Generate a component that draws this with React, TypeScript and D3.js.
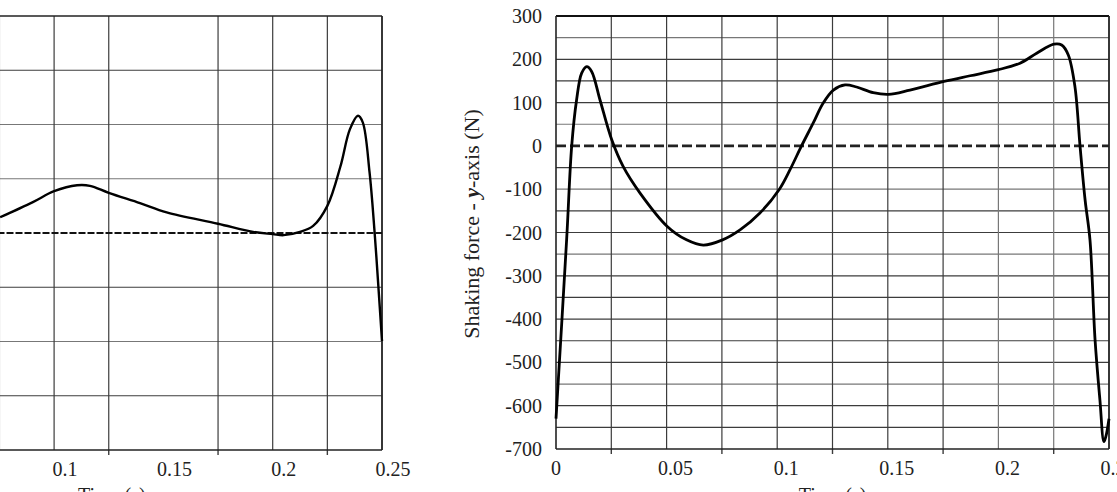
import React from "react";
import * as d3 from "d3";

// ---------- Data ----------
// Left panel (x-axis shaking force, partially visible), time in s, force in N
const leftTime = [0.0753, 0.0903, 0.1, 0.1105, 0.1164, 0.125, 0.1393, 0.1515, 0.175, 0.191, 0.2, 0.205, 0.2125, 0.2185, 0.225, 0.231, 0.2353, 0.239, 0.2412, 0.2443, 0.2466, 0.2482, 0.25];
const leftForce = [29, 57, 77, 88, 87, 74, 55, 38, 17, 2, -2, -4, 2, 13, 50, 123, 191, 216, 204, 112, 2, -90, -199];

// Right panel (y-axis shaking force)
const rightTime = [0, 0.0048, 0.0071, 0.0093, 0.0116, 0.0139, 0.0161, 0.0199, 0.0252, 0.0304, 0.038, 0.0503, 0.059, 0.0666, 0.0753, 0.0832, 0.0922, 0.101, 0.1058, 0.111, 0.1163, 0.1208, 0.1254, 0.1307, 0.1359, 0.1434, 0.1503, 0.16, 0.1754, 0.1872, 0.2, 0.2098, 0.2173, 0.2251, 0.2286, 0.2316, 0.2346, 0.2369, 0.2392, 0.2414, 0.2437, 0.2459, 0.2477, 0.2486, 0.25];
const rightForce = [-630, -217, 0, 106, 168, 183, 172, 106, 14, -48, -109, -186, -217, -229, -217, -194, -155, -100, -55, 0, 53, 99, 129, 141, 136, 123, 119, 129, 149, 162, 176, 191, 214, 235, 233, 210, 137, 0, -125, -217, -448, -587, -683, -671, -630];

const xTicks = [0, 0.05, 0.1, 0.15, 0.2, 0.25];
const xTickLabels = ["0", "0.05", "0.1", "0.15", "0.2", "0.25"];
const xGrid = [0.025, 0.05, 0.075, 0.1, 0.125, 0.15, 0.175, 0.2, 0.225, 0.25];
const xMinor = [0.025, 0.075, 0.125, 0.175, 0.225];
const leftXGrid = [0.075, 0.1, 0.125, 0.175, 0.2, 0.225, 0.25];
const leftYGrid = [-300, -200, -100, 100, 200, 300];
const rightYTicks = [300, 200, 100, 0, -100, -200, -300, -400, -500, -600, -700];
const rightYGrid = [250, 200, 150, 100, 50, -50, -100, -150, -200, -250, -300, -350, -400, -450, -500, -550, -600, -650];

const W = 1117;
const H = 492;
const FONT = "'Liberation Serif', 'Times New Roman', serif";
const GRID = "#3c3c3c";
const GRID_LIGHT = "#777";

export default function App() {
  // Left panel scales
  const lx = d3.scaleLinear().domain([0, 0.25]).range([-164.5, 382]);
  const ly = d3.scaleLinear().domain([-400, 400]).range([450, 16]);
  // Right panel scales
  const rx = d3.scaleLinear().domain([0, 0.25]).range([556, 1109]);
  const ry = d3.scaleLinear().domain([-700, 300]).range([449, 16]);

  const curve = d3.curveCatmullRom.alpha(0.5);

  const leftLine = d3
    .line<number>()
    .x((_, i) => lx(leftTime[i]))
    .y((d) => ly(d))
    .curve(curve)(leftForce) as string;

  const rightLine = d3
    .line<number>()
    .x((_, i) => rx(rightTime[i]))
    .y((d) => ry(d))
    .curve(curve)(rightForce) as string;

  const lx0 = lx.range()[0];
  const lx1 = lx.range()[1];
  const ly0 = ly.range()[0];
  const ly1 = ly.range()[1];
  const rx0 = rx.range()[0];
  const rx1 = rx.range()[1];
  const ry0 = ry.range()[0];
  const ry1 = ry.range()[1];

  const lightLeftY = new Set([100, 200, -200]);
  const lightRightY = new Set([250, 50, -100, -250, -550]);

  return (
    <svg
      width={W}
      height={H}
      style={{ position: "absolute", left: 0, top: 0, background: "#fff" }}
      fontFamily={FONT}
    >
      <rect x={0} y={0} width={W} height={H} fill="#fff" />
      <defs>
        <clipPath id="clipL">
          <rect x={lx0} y={ly1 - 2} width={lx1 - lx0 + 2} height={ly0 - ly1 + 4} />
        </clipPath>
        <clipPath id="clipR">
          <rect x={rx0 - 2} y={ry1 - 2} width={rx1 - rx0 + 4} height={ry0 - ry1 + 4} />
        </clipPath>
      </defs>

      {/* ---------- Left panel ---------- */}
      <g>
        {leftYGrid.map((v) => (
          <line key={"lyg" + v} x1={lx0} x2={lx1} y1={ly(v)} y2={ly(v)} stroke={lightLeftY.has(v) ? GRID_LIGHT : GRID} strokeWidth={1.2} />
        ))}
        {leftXGrid.map((t) => (
          <line key={"lxg" + t} x1={lx(t)} x2={lx(t)} y1={ly1} y2={ly0} stroke={GRID} strokeWidth={1.2} />
        ))}
        {xMinor
          .filter((t) => t > 0.1)
          .map((t) => (
            <line key={"lmt" + t} x1={lx(t)} x2={lx(t)} y1={ly0} y2={ly0 + 5} stroke={GRID} strokeWidth={1.4} />
          ))}
        {/* frame */}
        <line x1={lx0} x2={lx1} y1={ly1} y2={ly1} stroke="#222" strokeWidth={1.6} />
        <line x1={lx0} x2={lx1} y1={ly0} y2={ly0} stroke="#222" strokeWidth={1.6} />
        <line x1={lx1} x2={lx1} y1={ly1} y2={ly0} stroke="#222" strokeWidth={1.6} />
        {/* zero dashed */}
        <line x1={lx0} x2={lx1} y1={ly(0)} y2={ly(0)} stroke="#111" strokeWidth={2} strokeDasharray="7,2" />
        <path d={leftLine} fill="none" stroke="#000" strokeWidth={2.4} clipPath="url(#clipL)" />
        {xTicks.map((t, i) =>
          lx(t) > 10 ? (
            <text key={"lxt" + t} x={lx(t) + 11} y={476} textAnchor="middle" fontSize={20} fill="#222">
              {xTickLabels[i]}
            </text>
          ) : null
        )}
        <text x={(lx0 + lx1) / 2 + 3} y={502} textAnchor="middle" fontSize={20} fill="#222">
          Time (s)
        </text>
      </g>

      {/* ---------- Right panel ---------- */}
      <g>
        {rightYGrid.map((v) => (
          <line key={"ryg" + v} x1={rx0} x2={rx1} y1={ry(v)} y2={ry(v)} stroke={lightRightY.has(v) ? GRID_LIGHT : GRID} strokeWidth={1.2} />
        ))}
        {xGrid.map((t) => (
          <line key={"rxg" + t} x1={rx(t)} x2={rx(t)} y1={ry1} y2={ry0} stroke={t >= 0.2 && t < 0.25 ? GRID_LIGHT : GRID} strokeWidth={1.2} />
        ))}
        {xMinor.map((t) => (
          <line key={"rmt" + t} x1={rx(t)} x2={rx(t)} y1={ry0} y2={ry0 + 5} stroke={GRID} strokeWidth={1.4} />
        ))}
        {/* frame */}
        <line x1={rx0} x2={rx1} y1={ry1} y2={ry1} stroke="#111" strokeWidth={2.2} />
        <line x1={rx0} x2={rx1} y1={ry0} y2={ry0} stroke="#222" strokeWidth={1.6} />
        <line x1={rx0} x2={rx0} y1={ry1} y2={ry0} stroke="#222" strokeWidth={1.6} />
        <line x1={rx1} x2={rx1} y1={ry1} y2={ry0} stroke="#222" strokeWidth={1.6} />
        {/* zero dashed */}
        <line x1={rx0} x2={rx1} y1={ry(0)} y2={ry(0)} stroke="#222" strokeWidth={2.6} strokeDasharray="10,4" />
        <path d={rightLine} fill="none" stroke="#000" strokeWidth={2.8} clipPath="url(#clipR)" />
        {rightYTicks.map((v) => (
          <text key={"ryt" + v} x={542} y={ry(v)} dy="0.35em" textAnchor="end" fontSize={20} fill="#222">
            {String(v)}
          </text>
        ))}
        {xTicks.map((t, i) => (
          <text key={"rxt" + t} x={rx(t) + (t === 0 ? 0 : 9)} y={475} textAnchor="middle" fontSize={20} fill="#222">
            {xTickLabels[i]}
          </text>
        ))}
        <text x={(rx0 + rx1) / 2} y={502} textAnchor="middle" fontSize={20} fill="#222">
          Time (s)
        </text>
        <text
          transform={`translate(479, 224) rotate(-90)`}
          textAnchor="middle"
          fontSize={22}
          fill="#222"
        >
          Shaking force - <tspan fontStyle="italic" fontWeight="bold">y</tspan>-axis (N)
        </text>
      </g>
    </svg>
  );
}
